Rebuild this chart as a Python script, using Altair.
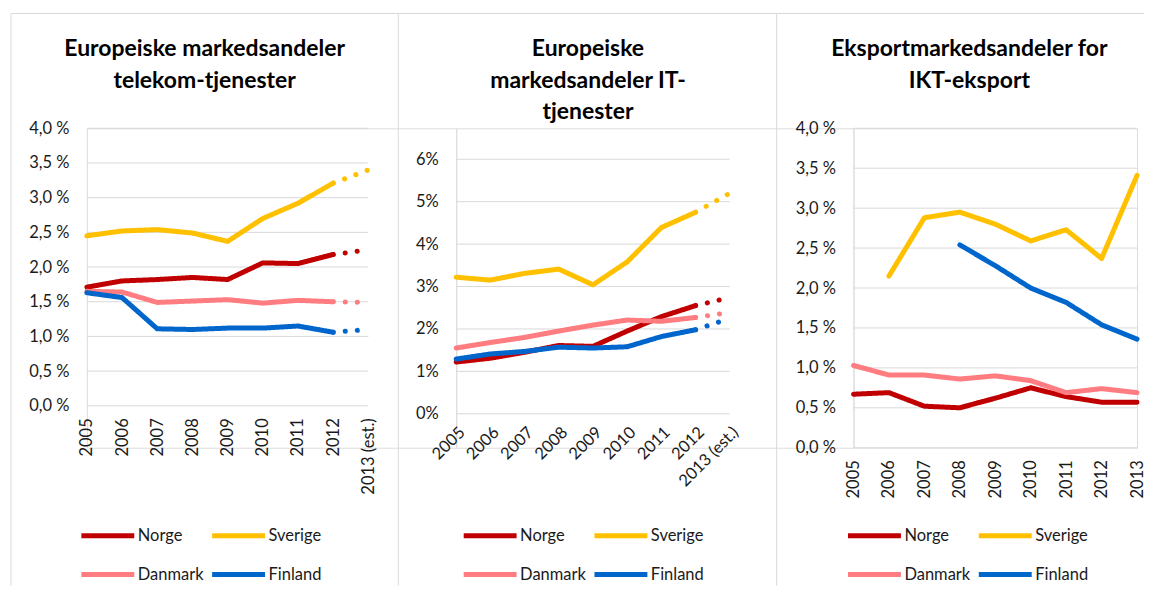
import altair as alt
import pandas as pd

countries = ["Norge", "Sverige", "Danmark", "Finland"]
colors = ["#C00000", "#FFC000", "#FF7C80", "#0066CC"]

years_est = ["2005", "2006", "2007", "2008", "2009", "2010", "2011", "2012", "2013 (est.)"]
years = ["2005", "2006", "2007", "2008", "2009", "2010", "2011", "2012", "2013"]

# Europeiske markedsandeler telekom-tjenester (%)
tele_norge = [1.71, 1.80, 1.82, 1.85, 1.82, 2.06, 2.05, 2.18, 2.25]
tele_sverige = [2.45, 2.52, 2.54, 2.49, 2.37, 2.70, 2.92, 3.21, 3.40]
tele_danmark = [1.65, 1.64, 1.49, 1.51, 1.53, 1.48, 1.52, 1.50, 1.49]
tele_finland = [1.63, 1.56, 1.11, 1.10, 1.12, 1.12, 1.15, 1.06, 1.10]

# Europeiske markedsandeler IT-tjenester (%)
it_norge = [1.22, 1.31, 1.45, 1.61, 1.59, 1.95, 2.29, 2.55, 2.74]
it_sverige = [3.22, 3.15, 3.31, 3.41, 3.04, 3.58, 4.39, 4.75, 5.20]
it_danmark = [1.55, 1.68, 1.80, 1.95, 2.09, 2.21, 2.18, 2.27, 2.39]
it_finland = [1.29, 1.41, 1.47, 1.57, 1.55, 1.58, 1.82, 1.98, 2.25]

# Eksportmarkedsandeler for IKT-eksport (%)
ikt_norge = [0.67, 0.69, 0.52, 0.50, 0.62, 0.75, 0.64, 0.57, 0.57]
ikt_sverige = [None, 2.15, 2.88, 2.95, 2.80, 2.59, 2.73, 2.37, 3.41]
ikt_danmark = [1.03, 0.91, 0.91, 0.86, 0.90, 0.84, 0.69, 0.74, 0.69]
ikt_finland = [None, None, None, 2.54, 2.28, 2.00, 1.82, 1.54, 1.36]

ticks_45 = [0, 0.5, 1, 1.5, 2, 2.5, 3, 3.5, 4]
ticks_6 = [0, 1, 2, 3, 4, 5, 6]

titles = [
    ["Europeiske markedsandeler", "telekom-tjenester"],
    ["Europeiske", "markedsandeler IT-", "tjenester"],
    ["Eksportmarkedsandeler for", "IKT-eksport"],
]

FONT = "Lato"
LABEL = "#1a1a1a"
GRID = "#D9D9D9"


def build_rows(year_labels, series, with_est):
    rows = []
    for name, vals in zip(countries, series):
        n = len(vals)
        for i, v in enumerate(vals):
            if v is None:
                continue
            if with_est:
                if i <= n - 2:
                    rows.append({"year": year_labels[i], "country": name, "value": v, "seg": "actual"})
                if i >= n - 2:
                    rows.append({"year": year_labels[i], "country": name, "value": v, "seg": "est"})
            else:
                rows.append({"year": year_labels[i], "country": name, "value": v, "seg": "actual"})
    return pd.DataFrame(rows)


def panel(df, xdomain, xw, view_w, yrange, ydomain, yticks, ylabel_expr,
          xangle, xoffset, xpad, title_lines, tx, bx, br, lx, ly):
    yscale = alt.Scale(domain=ydomain, range=yrange, nice=False, zero=True)
    yaxis = alt.Axis(title=None, values=yticks, labelExpr=ylabel_expr, grid=False,
                     domain=False, ticks=False, labelPadding=18, labelFontSize=16.5,
                     labelFont=FONT, labelColor=LABEL)
    grid = alt.Chart(pd.DataFrame({"value": yticks})).mark_rule(
        color=GRID, strokeWidth=1
    ).encode(
        y=alt.Y("value:Q", scale=yscale, axis=yaxis),
        x=alt.value(0), x2=alt.value(xw),
    )
    lines = alt.Chart(df).mark_line(
        strokeWidth=5, strokeCap="round", strokeJoin="round"
    ).encode(
        x=alt.X("year:N", sort=xdomain,
                scale=alt.Scale(type="point", domain=xdomain, range=[0, xw], padding=0),
                axis=alt.Axis(title=None, labelAngle=xangle, offset=xoffset, domain=False,
                              ticks=False, labelPadding=xpad, labelFontSize=16.5,
                              labelFont=FONT, labelColor=LABEL)),
        y=alt.Y("value:Q", scale=yscale, axis=yaxis),
        color=alt.Color("country:N", scale=alt.Scale(domain=countries, range=colors),
                        legend=alt.Legend(orient="none", legendX=lx, legendY=ly, title=None,
                                          columns=2, direction="horizontal",
                                          symbolType="stroke", symbolSize=2809,
                                          symbolStrokeWidth=5, labelFontSize=16.5,
                                          labelFont=FONT, labelColor=LABEL,
                                          columnPadding=6, rowPadding=22, clipHeight=16,
                                          labelOffset=1)),
        strokeDash=alt.StrokeDash("seg:N", scale=alt.Scale(domain=["actual", "est"],
                                                           range=[[1, 0], [0.1, 12]]),
                                  legend=None),
    )
    one = pd.DataFrame({"k": [0]})
    border_v = alt.Chart(one).mark_rule(color=GRID, strokeWidth=1).encode(
        x=alt.value(bx), y=alt.value(-115), y2=alt.value(458))
    border_h = alt.Chart(one).mark_rule(color=GRID, strokeWidth=1).encode(
        x=alt.value(bx), x2=alt.value(br), y=alt.value(-115))
    title = alt.Chart(one).mark_text(
        text=title_lines, font=FONT, fontSize=23, fontWeight="bold", color="#000000",
        align="center", baseline="alphabetic", lineHeight=31.5
    ).encode(x=alt.value(tx), y=alt.value(-72))
    return alt.layer(border_v, border_h, grid, lines, title).properties(
        width=view_w, height=320
    ).resolve_scale(strokeDash="independent")


df1 = build_rows(years_est, [tele_norge, tele_sverige, tele_danmark, tele_finland], True)
df2 = build_rows(years_est, [it_norge, it_sverige, it_danmark, it_finland], True)
df3 = build_rows(years, [ikt_norge, ikt_sverige, ikt_danmark, ikt_finland], False)

lbl1 = "replace(format(datum.value, '.1f'), '.', ',') + ' %'"
lbl2 = "format(datum.value, 'd') + '%'"

p1 = panel(df1, years_est, 282, 370, [278, 0], [0, 4], ticks_45, lbl1,
           -90, -42, 12, titles[0], 118, -76, 312, -8, 400)
p2 = panel(df2, years_est, 274, 398, [286, 31], [0, 6], ticks_6, lbl2,
           -45, -34, 10, titles[1], 132, -58, 321, 5, 400)
p3 = panel(df3, years, 284, 284, [320, 0], [0, 4], ticks_45, lbl1,
           -90, 0, 12, titles[2], 116, -77, 291, -8, 400)

chart = alt.hconcat(p1, p2, p3, spacing=0, bounds="flush").resolve_scale(
    color="independent", y="independent", x="independent"
).resolve_legend(color="independent").properties(
    padding={"left": 2, "top": 4, "right": 0, "bottom": 0}
).configure_view(stroke=None).configure(background="white")

chart.save("out.html", embed_options={"renderer": "svg", "actions": False})
